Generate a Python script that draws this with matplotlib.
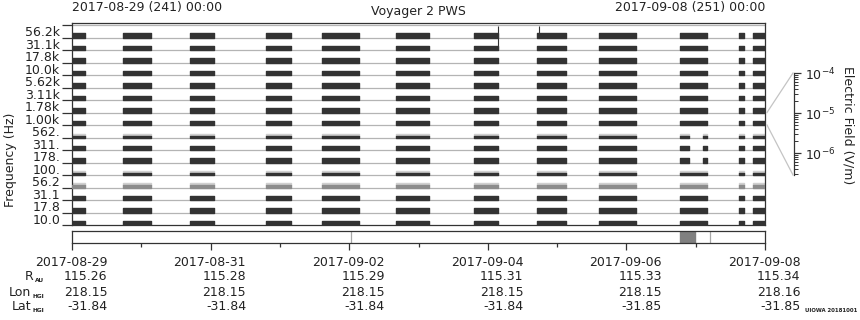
import numpy as np
import matplotlib
matplotlib.use("Agg")
import matplotlib.pyplot as plt
from matplotlib import transforms
from matplotlib.lines import Line2D

# ---------------------------------------------------
# data (x in days since 2017-08-29 00:00)
# ---------------------------------------------------
channels = ["56.2k", "31.1k", "17.8k", "10.0k", "5.62k", "3.11k", "1.78k", "1.00k",
            "562.", "311.", "178.", "100.", "56.2", "31.1", "17.8", "10.0"]

seg_start = [0.00, 0.74, 1.70, 2.80, 3.61, 4.68, 5.80, 6.71, 7.60, 8.77, 9.62, 9.83]
seg_end = [0.19, 1.14, 2.05, 3.16, 4.14, 5.15, 6.15, 7.13, 8.14, 9.16, 9.70, 10.00]

# channels where segment 8.77-9.16 is broken in two pieces
split_rows = ["562.", "311.", "178."]
split_pieces = [(8.77, 8.90), (9.10, 9.16)]

# weak channels (thin dark strip + noise)
weak_rows = ["562.", "100."]
gray_rows = ["56.2"]

# spikes: (day, channel row top, channel row bottom)
spike_x = [6.14, 6.74]
spike_top = [15.9, 15.9]
spike_bot = [14.0, 15.2]

# coverage strip
strip_block = (8.77, 8.99)
strip_marks = [4.02, 9.21]

tick_days = [0, 2, 4, 6, 8, 10]
tick_dates = ["2017-08-29", "2017-08-31", "2017-09-02", "2017-09-04", "2017-09-06", "2017-09-08"]
r_au = ["115.26", "115.28", "115.29", "115.31", "115.33", "115.34"]
lon_hgi = ["218.15", "218.15", "218.15", "218.15", "218.15", "218.16"]
lat_hgi = ["-31.84", "-31.84", "-31.84", "-31.84", "-31.85", "-31.85"]

W, H = 860, 320
DARK = "#333333"
LINE = "#b4b4b4"
TXT = "#222222"
plt.rcParams["font.family"] = ["DejaVu Sans"]
plt.rcParams["font.size"] = 9

fig = plt.figure(figsize=(W / 100, H / 100), dpi=100)

# ---------------------------------------------------
# spectrogram panel
# ---------------------------------------------------
ax = fig.add_axes([72 / W, (H - 225) / H, 693 / W, 202 / H])
n = len(channels)
ax.set_xlim(0, 10)
ax.set_ylim(0, n + 0.16)

for y in range(1, n + 1):
    ax.axhline(y, color=LINE, lw=0.9, zorder=1)

for i, ch in enumerate(channels):
    y0 = n - 1 - i
    if ch in split_rows:
        ranges = [(s, e - s) for s, e in zip(seg_start, seg_end) if s != 8.77]
        ranges += [(s, e - s) for s, e in split_pieces]
    else:
        ranges = [(s, e - s) for s, e in zip(seg_start, seg_end)]
    if ch in weak_rows:
        ax.broken_barh(ranges, (y0 + 0.12, 0.2), color="#d0d0d0", zorder=2)
        ax.broken_barh(ranges, (y0, 0.14), color=DARK, zorder=3)
    elif ch in gray_rows:
        ax.broken_barh(ranges, (y0 + 0.2, 0.14), color="#d0d0d0", zorder=2)
        ax.broken_barh(ranges, (y0, 0.24), color="#8c8c8c", zorder=3)
    else:
        ax.broken_barh(ranges, (y0, 0.33), color=DARK, zorder=3)

ax.vlines(spike_x, spike_bot, spike_top, color=DARK, lw=0.8, zorder=4)

for sp in ax.spines.values():
    sp.set_color(DARK)
    sp.set_linewidth(0.9)

ax.set_xticks([])
ax.set_yticks(np.arange(0, n + 1))
ax.set_yticks(np.arange(n) + 0.5, minor=True)
ax.set_yticklabels([], minor=False)
ax.set_yticklabels(channels[::-1], minor=True)
ax.tick_params(axis="y", which="major", length=7.2, width=0.9, color=DARK)
ax.tick_params(axis="y", which="minor", length=0, pad=8.5, labelcolor=TXT, labelsize=9)
ax.set_ylabel("Frequency (Hz)", color=TXT, fontsize=9)
ax.yaxis.set_label_coords(17 / W, 0.5, transform=fig.transFigure)

fig.text(72 / W, 1 - 8 / H, "2017-08-29 (241) 00:00", ha="left", va="center", color=TXT)
fig.text(418 / W, 1 - 12 / H, "Voyager 2 PWS", ha="center", va="center", color=TXT)
fig.text(765 / W, 1 - 8 / H, "2017-09-08 (251) 00:00", ha="right", va="center", color=TXT)

# ---------------------------------------------------
# colour bar axis (only the scale)
# ---------------------------------------------------
cax = fig.add_axes([794 / W, (H - 175) / H, 0.0001, 102 / H])
cax.set_yscale("log")
cax.set_ylim(10 ** -6.55, 1e-4)
cax.set_xticks([])
for k in ["top", "right", "bottom"]:
    cax.spines[k].set_visible(False)
cax.spines["left"].set_color(DARK)
cax.spines["left"].set_linewidth(0.9)
cax.tick_params(axis="y", which="both", direction="in", left=True, right=False,
                labelleft=False, labelright=True, color=DARK, labelcolor=TXT)
cax.tick_params(axis="y", which="major", length=5, width=0.9, pad=8, labelsize=9)
cax.tick_params(axis="y", which="minor", length=3, width=0.7)
fig.text(848 / W, 1 - 125 / H, "Electric Field (V/m)", rotation=270, ha="center",
         va="center", color=TXT)

fig.add_artist(Line2D([767 / W, 793 / W], [1 - 112.5 / H, 1 - 73 / H], color="#c4c4c4", lw=0.9))
fig.add_artist(Line2D([767 / W, 793 / W], [1 - 125 / H, 1 - 175 / H], color="#c4c4c4", lw=0.9))

# ---------------------------------------------------
# coverage strip + ephemeris
# ---------------------------------------------------
ax2 = fig.add_axes([72 / W, (H - 243) / H, 693 / W, 12 / H])
ax2.set_xlim(0, 10)
ax2.set_ylim(0, 1)
ax2.broken_barh([(strip_block[0], strip_block[1] - strip_block[0])], (0, 1), color="#808080")
for xm in strip_marks:
    ax2.axvline(xm, color="#a8a8a8", lw=0.9)
for sp in ax2.spines.values():
    sp.set_color(DARK)
    sp.set_linewidth(0.9)
ax2.set_yticks([])
ax2.set_xticks(tick_days)
ax2.set_xticks(range(1, 10, 2), minor=True)
ax2.set_xticklabels([])
ax2.tick_params(axis="x", which="major", length=5.2, width=0.9, color=DARK)
ax2.tick_params(axis="x", which="minor", length=2.6, width=0.9, color=DARK)

base = transforms.blended_transform_factory(ax2.transData, fig.transFigure)
tr = transforms.offset_copy(base, fig=fig, x=35.5, y=0, units="dots")
rows_y = [262, 277, 292, 306]
for k, d in enumerate(tick_days):
    vals = [tick_dates[k], r_au[k], lon_hgi[k], lat_hgi[k]]
    for v, yy in zip(vals, rows_y):
        ax2.text(d, 1 - yy / H, v, transform=tr, ha="right", va="center",
                 color=TXT, fontsize=9, clip_on=False)

# row names with tiny bold subscripts
renderer = fig.canvas.get_renderer()
names = ["R", "Lon", "Lat"]
subs = ["AU", "HGI", "HGI"]
for nm, sb, yy in zip(names, subs, rows_y[1:]):
    st = fig.text(44 / W, 1 - (yy + 4) / H, sb, ha="right", va="center", color=TXT,
                  fontsize=4.2, weight="bold")
    sw = st.get_window_extent(renderer).width
    fig.text((44 - sw - 1) / W, 1 - yy / H, nm, ha="right", va="center", color=TXT, fontsize=9)

fig.text(805 / W, 1 - 310 / H, "UIOWA 20181001", ha="left", va="center",
         fontsize=3.9, weight="bold", color=TXT)

fig.savefig("out.png", dpi=100)
